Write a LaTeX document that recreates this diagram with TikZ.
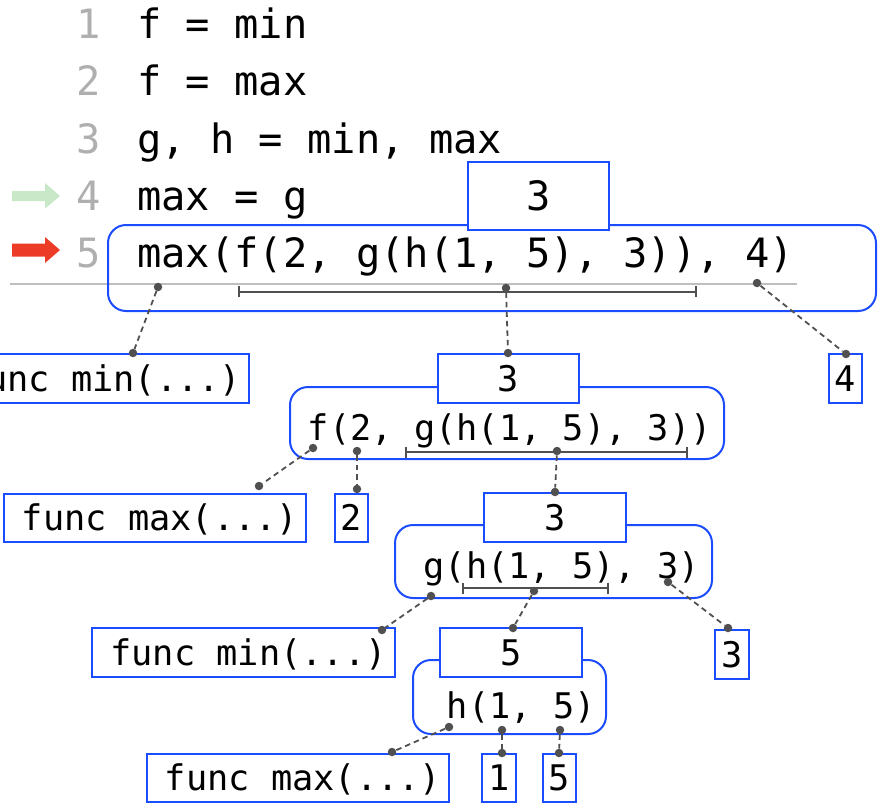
\documentclass[tikz,border=0pt]{standalone}
\usepackage{fontspec}
\usetikzlibrary{arrows.meta}
\newfontfamily\cf{DejaVu Sans Mono}
\newcommand\bigf{\cf\fontsize{40.4}{48}\selectfont}
\newcommand\smf{\cf\fontsize{35.3}{42}\selectfont}
\newcommand\fpad{\hspace*{10pt}}
\definecolor{bx}{RGB}{28,76,255}
\definecolor{dk}{RGB}{80,80,80}
\definecolor{lgray}{RGB}{175,175,175}
\definecolor{rule}{RGB}{190,190,190}
\definecolor{garrow}{RGB}{200,232,200}
\definecolor{rarrow}{RGB}{236,60,40}
\tikzset{
  ctxt/.style={anchor=base west, inner sep=0pt, font=\bigf},
  lnum/.style={anchor=base west, inner sep=0pt, font=\bigf, text=lgray},
  etxt/.style={anchor=base west, inner sep=0pt, font=\smf},
  vbox/.style={draw=bx, line width=2pt, fill=white, inner sep=0pt, font=\smf, text height=25.7pt, text depth=0pt, minimum height=49pt},
  vbigbox/.style={draw=bx, line width=2pt, fill=white, inner sep=0pt, font=\bigf, text height=29.5pt, text depth=0pt},
  rbox/.style={draw=bx, line width=2pt, rounded corners=18pt, inner sep=0pt},
  dotn/.style={circle, fill=dk, inner sep=0pt, minimum size=8.5pt},
  conn/.style={draw=dk, line width=1.8pt, dash pattern=on 5.5pt off 4pt},
  brk/.style={draw=dk, line width=2pt, {Bar[width=11pt,line width=2pt]}-{Bar[width=11pt,line width=2pt]}},
}
\begin{document}
\begin{tikzpicture}[x=1pt,y=-1pt]
\useasboundingbox (0,0) rectangle (878,804);
% arrows
\fill[garrow] (12,191) -- (45,191) -- (45,183) -- (60,196) -- (45,208.5) -- (45,201) -- (12,201) -- cycle;
\fill[rarrow] (12,243.5) -- (45,243.5) -- (45,237) -- (60,250) -- (45,263) -- (45,256.5) -- (12,256.5) -- cycle;
% line numbers
\node[lnum] (n1) at (76,38) {1};
\node[lnum] (n2) at (76,95) {2};
\node[lnum] (n3) at (76,153) {3};
\node[lnum] (n4) at (76,210) {4};
\node[lnum] (n5) at (76,267) {5};
% rule
\draw[rule, line width=2pt] (10,283.5) -- (797,283.5);
% big rounded box and value
\node[rbox, minimum width=768pt, minimum height=86pt] (top) at (492,268) {};
\node[vbigbox, minimum width=141pt, minimum height=68pt] (topv) at (538.5,196) {3};
% code
\node[ctxt] (c1) at (137,38) {f = min};
\node[ctxt] (c2) at (137,95) {f = max};
\node[ctxt] (c3) at (137,153) {g, h = min, max};
\node[ctxt] (c4) at (137,210) {max = g};
\node[ctxt] (c5) at (137,267) {max(f(2, g(h(1, 5), 3)), 4)};
% f node
\node[rbox, minimum width=434pt, minimum height=72pt] (fr) at (507,423) {};
\node[vbox, minimum width=141pt] (fv) at (508.5,378.5) {3};
\node[etxt] (ef) at (307.6,440) {f(2, g(h(1, 5), 3))};
% g node
\node[rbox, minimum width=317pt, minimum height=73pt] (gr) at (553.5,561.5) {};
\node[vbox, minimum width=142pt] (gv) at (555,517.5) {3};
\node[etxt] (eg) at (423.5,578) {g(h(1, 5), 3)};
% h node
\node[rbox, minimum width=193pt, minimum height=74pt] (hr) at (509.5,697) {};
\node[vbox, minimum width=142pt] (hv) at (511,652.5) {5};
\node[etxt] (eh) at (446.6,718) {h(1, 5)};
% leaf boxes
\node[vbox, minimum width=302pt] (fmin1) at (98,378.5) {\fpad func min(...)};
\node[vbox, minimum width=33pt] (b4) at (845.5,378.5) {4};
\node[vbox, minimum width=302pt, minimum height=48pt] (fmax1) at (155,518) {\fpad func max(...)};
\node[vbox, minimum width=33pt, minimum height=48pt] (b2) at (351.5,518) {2};
\node[vbox, minimum width=303pt] (fmin2) at (243.5,652.5) {\fpad func min(...)};
\node[vbox, minimum width=34pt] (b3) at (732,654.5) {3};
\node[vbox, minimum width=302pt, minimum height=48pt] (fmax2) at (298,778) {\fpad func max(...)};
\node[vbox, minimum width=34pt, minimum height=48pt] (b1) at (499,778) {1};
\node[vbox, minimum width=33pt, minimum height=48pt] (b5) at (559.5,778) {5};
% brackets
\coordinate (bt1) at (238,291.5); \coordinate (bt2) at (697,291.5);
\coordinate (bf1) at (405,452); \coordinate (bf2) at (688,452);
\coordinate (bg1) at (462,588); \coordinate (bg2) at (609,588);
\draw[brk] (bt1) -- (bt2);
\draw[brk] (bf1) -- (bf2);
\draw[brk] (bg1) -- (bg2);
% dots
\node[dotn] (dmax) at (158,287) {};
\node[dotn] (dtop) at (506,288) {};
\node[dotn] (d4) at (757,283) {};
\node[dotn] (dfmin1) at (133,353) {};
\node[dotn] (dfval) at (508,353) {};
\node[dotn] (dbox4) at (846,354) {};
\node[dotn] (df) at (313,448) {};
\node[dotn] (d2) at (357,451) {};
\node[dotn] (dfbr) at (557,451) {};
\node[dotn] (dfmax1) at (259,486) {};
\node[dotn] (dbox2) at (357,489) {};
\node[dotn] (dgval) at (555,492) {};
\node[dotn] (dg) at (431,596) {};
\node[dotn] (dgbr) at (534,591) {};
\node[dotn] (dg3) at (668,582) {};
\node[dotn] (dfmin2) at (382,630) {};
\node[dotn] (dhval) at (513,628) {};
\node[dotn] (dbox3) at (728,628) {};
\node[dotn] (dh) at (449,727) {};
\node[dotn] (dh1) at (502,730) {};
\node[dotn] (dh5) at (560,730) {};
\node[dotn] (dfmax2) at (392,752) {};
\node[dotn] (dbox1) at (502,753) {};
\node[dotn] (dbox5) at (559,753) {};
% connectors
\draw[conn] (dmax) -- (dfmin1);
\draw[conn] (dtop) -- (dfval);
\draw[conn] (d4) -- (dbox4);
\draw[conn] (df) -- (dfmax1);
\draw[conn] (d2) -- (dbox2);
\draw[conn] (dfbr) -- (dgval);
\draw[conn] (dg) -- (dfmin2);
\draw[conn] (dgbr) -- (dhval);
\draw[conn] (dg3) -- (dbox3);
\draw[conn] (dh) -- (dfmax2);
\draw[conn] (dh1) -- (dbox1);
\draw[conn] (dh5) -- (dbox5);
\end{tikzpicture}
\end{document}
